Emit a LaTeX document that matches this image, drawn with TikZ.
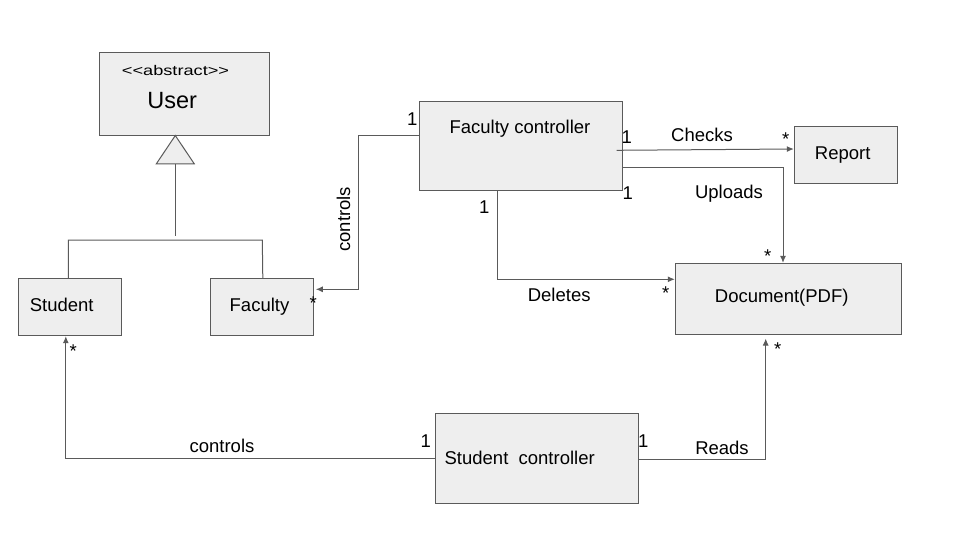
\documentclass[tikz,border=0pt]{standalone}
\usepackage{fontspec}
\setmainfont{Liberation Sans}[Ligatures=TeXOff]
\usepackage{xcolor}
\usepackage{tikz}
\usetikzlibrary{arrows.meta}

\definecolor{linegray}{HTML}{5A5A5A}
\definecolor{boxfill}{HTML}{EEEEEE}

\begin{document}
\begin{tikzpicture}[x=1pt, y=-1pt, >={Latex[length=7pt,width=6pt]},
    box/.style={draw=linegray, line width=1pt, fill=boxfill, inner sep=0pt},
    lbl/.style={anchor=base, inner sep=0pt, text=black, font=\fontsize{18.5}{22}\selectfont},
    star/.style={anchor=north, inner sep=0pt, text=black, font=\fontsize{18.5}{22}\selectfont},
    conn/.style={draw=linegray, line width=1pt}
  ]
            \useasboundingbox (0,0) rectangle (960,540);
            % classes
            \node[box, minimum width=170pt, minimum height=82.7pt] (user) at (184.3,93.7) {};
            \node[box, minimum width=103pt, minimum height=57.4pt] (student) at (69.8,307) {};
            \node[box, minimum width=103pt, minimum height=57.4pt] (faculty) at (261.8,307) {};
            \node[box, minimum width=203.4pt, minimum height=89.3pt] (fctrl) at (521,146.3) {};
            \node[box, minimum width=103.4pt, minimum height=56.6pt] (report) at (846,155) {};
            \node[box, minimum width=226.4pt, minimum height=70.7pt] (doc) at (788.5,298.7) {};
            \node[box, minimum width=202.6pt, minimum height=90pt] (sctrl) at (537,458.3) {};
            \node[lbl] (tabs) at (175.5,75.7) {\scalebox{1.3}[1]{\fontsize{14}{16}\selectfont <<abstract>>}};
            \node[lbl, font=\fontsize{23.5}{28}\selectfont] (tuser) at (172.2,108.3) {User};
            \node[lbl] (tstudent) at (61.7,311.7) {Student};
            \node[lbl] (tfaculty) at (259.5,311.7) {Faculty};
            \node[lbl] (tfctrl) at (520,133.2) {Faculty controller};
            \node[lbl] (treport) at (842.7,159.5) {Report};
            \node[lbl] (tdoc) at (781.7,302.5) {Document(PDF)};
            \node[lbl] (tsctrl) at (519.7,464) {Student\ \ controller};
            % generalisation
            \coordinate (apex) at ([xshift=-9pt]user.south);
            \draw[conn, fill=boxfill] (apex) -- ++(-19,28.3) -- ++(38,0) -- cycle;
            \draw[conn] (apex) ++(0,28.3) -- ++(0,72.3);
            \draw[conn] ([xshift=-1.5pt]student.north) |- (262.3,240) -- ([xshift=1pt]faculty.north);
            % associations
            \draw[conn, ->] ([yshift=10.6pt]fctrl.west) -- ++(-60,0) |- ([xshift=2pt,yshift=17.7pt]faculty.east);
            \draw[conn, ->] ([xshift=-6.7pt,yshift=-4pt]fctrl.east) -- ([yshift=6pt]report.west);
            \draw[conn, ->] ([yshift=-21.4pt]fctrl.east) -| ([xshift=-5.5pt]doc.north);
            \draw[conn, ->] ([xshift=-23.7pt]fctrl.south) |- ([yshift=19.4pt]doc.west);
            \draw[conn, ->] (sctrl.west) -| ([xshift=-4pt]student.south);
            \draw[conn, ->] ([yshift=-1pt]sctrl.east) -| ([xshift=-22.8pt,yshift=-4pt]doc.south);
            % association labels
            \node[lbl, rotate=90] (lcontrolsf) at (350,219.2) {controls};
            \node[lbl] (mfc1) at (412.3,126) {1};
            \node[star] (mfac) at (313.3,296.7) {*};
            \node[lbl] (lchecks) at (702,141.7) {Checks};
            \node[lbl] (mchk1) at (626.7,143.3) {1};
            \node[star] (mchk) at (785.7,132.7) {*};
            \node[lbl] (luploads) at (729,198.3) {Uploads};
            \node[lbl] (mupl1) at (627.7,199) {1};
            \node[star] (mupl) at (767.7,249.3) {*};
            \node[lbl] (ldeletes) at (559.2,301.7) {Deletes};
            \node[lbl] (mdel1) at (484.3,213.3) {1};
            \node[star] (mdel) at (665.7,286.7) {*};
            \node[lbl] (lcontrolss) at (222,452.3) {controls};
            \node[lbl] (msc1) at (425.7,447.3) {1};
            \node[star] (mstu) at (73.3,345) {*};
            \node[lbl] (lreads) at (722,454) {Reads};
            \node[lbl] (mrd1) at (643.3,447.3) {1};
            \node[star] (mrd) at (777.7,342.3) {*};
        \end{tikzpicture}
\end{document}
